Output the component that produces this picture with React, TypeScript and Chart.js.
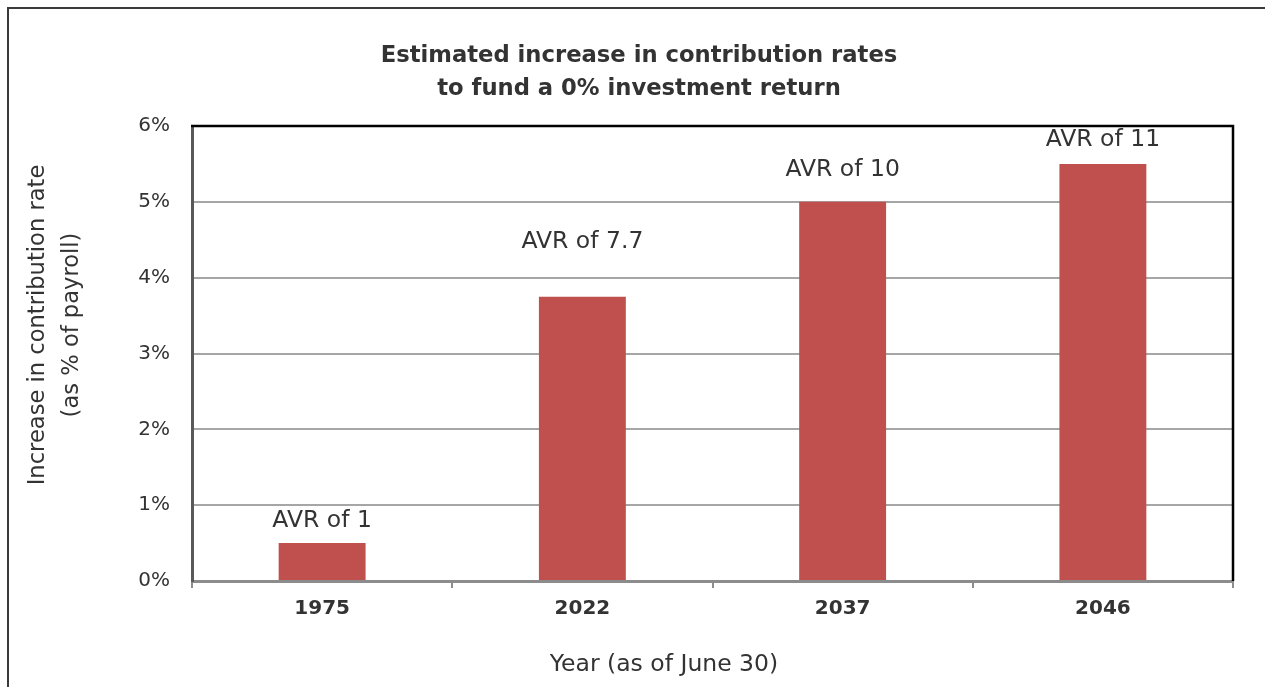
import React, { useEffect, useRef } from "react";
import { Chart, registerables } from "chart.js";

Chart.register(...registerables);

const categories = ["1975", "2022", "2037", "2046"];
const increaseValues = [0.5, 3.75, 5.0, 5.5];
const barLabels = ["AVR of 1", "AVR of 7.7", "AVR of 10", "AVR of 11"];
const barLabelLevels = [0.79, 4.47, 5.42, 5.82];
const yTicks = [0, 1, 2, 3, 4, 5, 6];
const titleLines = ["Estimated increase in contribution rates", "to fund a 0% investment return"];
const yTitleLines = ["Increase in contribution rate", "(as % of payroll)"];
const xTitle = "Year (as of June 30)";

const FONT = "'DejaVu Sans', 'Liberation Sans', sans-serif";
const TEXT = "#333333";

const decorPlugin = {
  id: "decor",
  beforeDraw(chart: any) {
    const ctx = chart.ctx;
    ctx.save();
    ctx.fillStyle = "#ffffff";
    ctx.fillRect(0, 0, chart.width, chart.height);
    ctx.strokeStyle = "#3a3a3a";
    ctx.lineWidth = 2;
    ctx.strokeRect(8, 8, chart.width + 50, chart.height + 50);
    ctx.restore();
  },
  afterDraw(chart: any) {
    const ctx = chart.ctx;
    const area = chart.chartArea;
    const xs = chart.scales.x;
    const ys = chart.scales.y;
    ctx.save();
    // top & right frame
    ctx.strokeStyle = "#000000";
    ctx.lineWidth = 2.5;
    ctx.beginPath();
    ctx.moveTo(area.left - 1, area.top);
    ctx.lineTo(area.right, area.top);
    ctx.lineTo(area.right, area.bottom);
    ctx.stroke();

    // bar labels
    ctx.fillStyle = TEXT;
    ctx.font = `23.5px ${FONT}`;
    ctx.textAlign = "center";
    ctx.textBaseline = "middle";
    categories.forEach((_, i) => {
      const x = xs.getPixelForValue(i);
      const y = ys.getPixelForValue(barLabelLevels[i]);
      ctx.fillText(barLabels[i], x, y);
    });

    // chart title
    ctx.font = `bold 22.7px ${FONT}`;
    ctx.fillText(titleLines[0], 639, 56);
    ctx.fillText(titleLines[1], 639, 89);

    // x title
    ctx.font = `23.5px ${FONT}`;
    ctx.fillText(xTitle, 664, 665);

    // y title
    ctx.font = `22.6px ${FONT}`;
    ctx.translate(55, 325);
    ctx.rotate(-Math.PI / 2);
    ctx.fillText(yTitleLines[0], 0, -17);
    ctx.fillText(yTitleLines[1], 0, 17);
    ctx.restore();
  },
};

export default function App() {
  const canvasRef = useRef<HTMLCanvasElement | null>(null);

  useEffect(() => {
    if (!canvasRef.current) return;
    const chart = new Chart(canvasRef.current, {
      type: "bar",
      data: {
        labels: categories,
        datasets: [
          {
            data: increaseValues,
            backgroundColor: "#C0504D",
            borderWidth: 0,
            categoryPercentage: 1,
            barPercentage: 0.334,
          },
        ],
      },
      options: {
        animation: false,
        responsive: true,
        maintainAspectRatio: false,
        layout: { padding: { left: 0, right: 32, top: 126, bottom: 0 } },
        plugins: {
          legend: { display: false },
          title: { display: false },
          tooltip: { enabled: false },
        },
        scales: {
          x: {
            offset: true,
            afterFit: (scale: any) => {
              scale.height = 106;
            },
            grid: {
              offset: true,
              drawOnChartArea: false,
              drawTicks: true,
              tickLength: 7,
              color: "#8c8c8c",
              lineWidth: 2,
            },
            border: { display: true, color: "#8c8c8c", width: 3 },
            ticks: {
              color: TEXT,
              font: { family: FONT, size: 20, weight: "bold" },
              padding: 9,
            },
          },
          y: {
            min: 0,
            max: 6,
            afterFit: (scale: any) => {
              scale.width = 192;
            },
            afterBuildTicks: (scale: any) => {
              scale.ticks = yTicks.map((v) => ({ value: v }));
            },
            grid: {
              drawTicks: false,
              color: "#a6a6a6",
              lineWidth: 2,
            },
            border: { display: true, color: "#595959", width: 3 },
            ticks: {
              color: TEXT,
              font: { family: FONT, size: 20 },
              padding: 22,
              callback: (v: any) => `${v}%`,
            },
          },
        },
      },
      plugins: [decorPlugin],
    });
    return () => chart.destroy();
  }, []);

  return (
    <div style={{ position: "absolute", left: 0, top: 0, width: 1265, height: 687 }}>
      <canvas ref={canvasRef} />
    </div>
  );
}
